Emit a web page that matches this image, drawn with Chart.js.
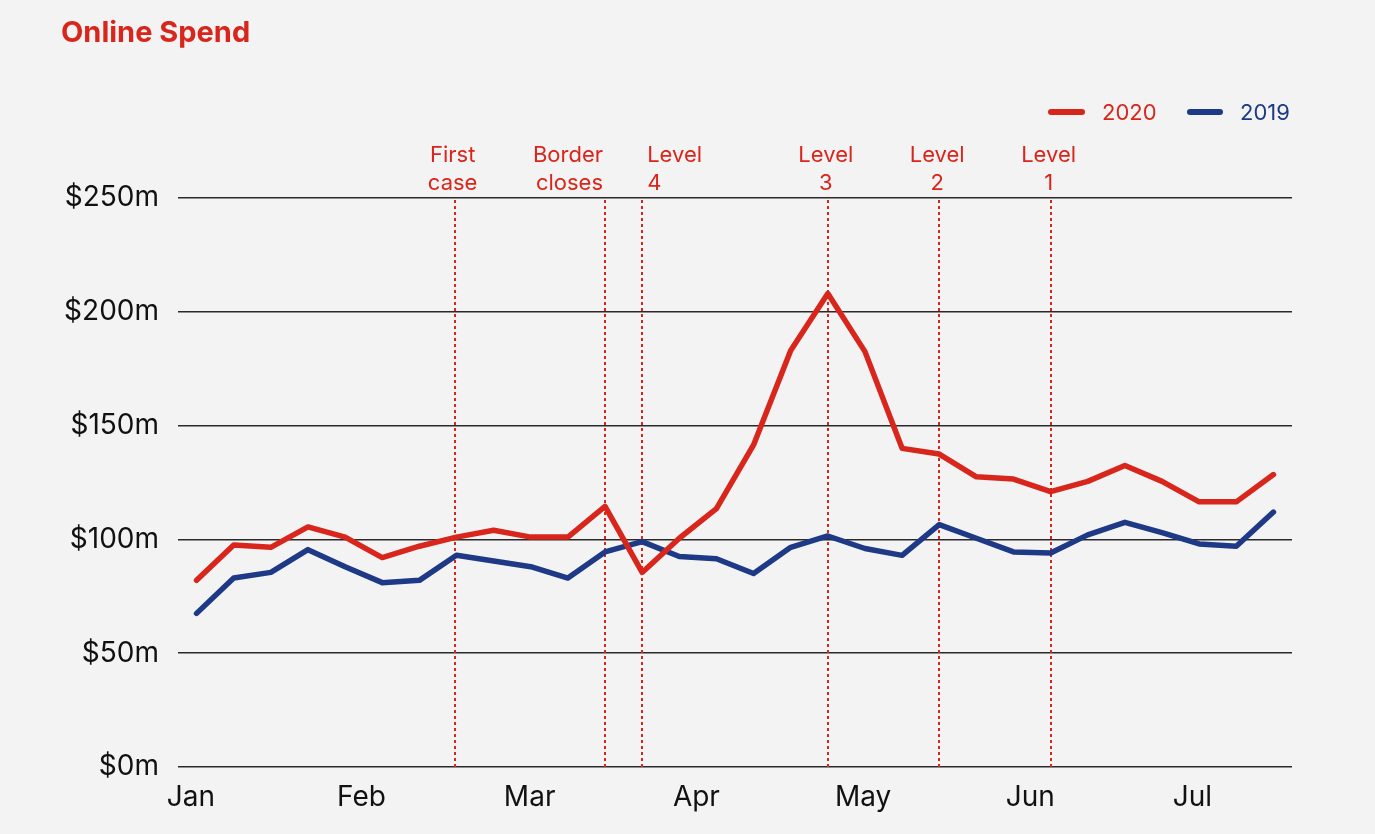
<!DOCTYPE html>
<html>
<head>
<meta charset="utf-8">
<title>Online Spend</title>
<script src="https://cdn.jsdelivr.net/npm/chart.js@4/dist/chart.umd.min.js"></script>
<style>
  html, body { margin: 0; padding: 0; background: #f3f3f3; }
  #wrap { width: 1375px; height: 834px; position: relative; }
</style>
</head>
<body>
<div id="wrap"><canvas id="spendChart"></canvas></div>
<script>
// weekly online spend ($m), first week of Jan through mid July
const spend2020 = [82, 97.5, 96.5, 105.5, 101, 92, 97, 101, 104, 101, 101, 114.5, 85.5, 100.5, 113.5,
  141.5, 183, 208, 182.5, 140, 137.5, 127.5, 126.5, 121, 125.5, 132.5, 125.5, 116.5, 116.5, 128.5];
const spend2019 = [67.5, 83, 85.5, 95.5, 88, 81, 82, 93, 90.5, 88, 83, 94.5, 99, 92.5, 91.5,
  85, 96.5, 101.5, 96, 93, 106.5, 100.5, 94.5, 94, 102, 107.5, 103, 98, 97, 112];

const monthLabels = ['Jan', 'Feb', 'Mar', 'Apr', 'May', 'Jun', 'Jul'];
const monthWeeks = [-0.15, 4.44, 8.97, 13.46, 17.95, 22.45, 26.82];
const yTicks = [0, 50, 100, 150, 200, 250];

// covid milestones, in weeks from Jan 1
const eventWeeks = [6.95, 11, 12, 17, 20, 23];
const eventLabels = [['First', 'case'], ['Border', 'closes'], ['Level', '4'], ['Level', '3'], ['Level', '2'], ['Level', '1']];
const eventAlign = ['center', 'right', 'left', 'center', 'center', 'center'];

const RED = '#d8261c';
const BLUE = '#1e3a86';
const FONT = 'Inter, "Liberation Sans", Arial, sans-serif';

const toPoints = (arr) => arr.map((v, i) => ({ x: i, y: v }));

const backgroundPlugin = {
  id: 'background',
  beforeDraw(chart) {
    const ctx = chart.ctx;
    ctx.save();
    ctx.fillStyle = '#f3f3f3';
    ctx.fillRect(0, 0, chart.width, chart.height);
    ctx.restore();
  }
};

// dotted milestone lines sit under the data lines
const eventLinesPlugin = {
  id: 'eventLines',
  beforeDatasetsDraw(chart) {
    const { ctx, chartArea, scales } = chart;
    ctx.save();
    ctx.strokeStyle = RED;
    ctx.lineWidth = 2;
    ctx.setLineDash([3, 3]);
    eventWeeks.forEach(w => {
      const x = Math.round(scales.x.getPixelForValue(w));
      ctx.beginPath();
      ctx.moveTo(x, chartArea.top + 2);
      ctx.lineTo(x, chartArea.bottom);
      ctx.stroke();
    });
    ctx.restore();
  },
  afterDraw(chart) {
    const { ctx, scales } = chart;
    ctx.save();
    ctx.fillStyle = RED;
    ctx.font = '22px ' + FONT;
    ctx.textBaseline = 'alphabetic';
    eventWeeks.forEach((w, i) => {
      let x = scales.x.getPixelForValue(w);
      const align = eventAlign[i];
      if (align === 'left') x += 5;
      else x -= 2;
      ctx.textAlign = align;
      ctx.fillText(eventLabels[i][0], x, 162);
      ctx.fillText(eventLabels[i][1], x, 190);
    });
    ctx.restore();
  }
};

// title and legend drawn at the top
const headerPlugin = {
  id: 'header',
  afterDraw(chart) {
    const ctx = chart.ctx;
    ctx.save();
    ctx.fillStyle = RED;
    ctx.font = 'bold 29px ' + FONT;
    ctx.textBaseline = 'alphabetic';
    ctx.textAlign = 'left';
    ctx.fillText('Online Spend', 61, 42);

    const items = [
      { label: '2020', color: RED, x0: 1051, x1: 1082, tx: 1102 },
      { label: '2019', color: BLUE, x0: 1190, x1: 1220, tx: 1240 }
    ];
    ctx.font = '22px ' + FONT;
    ctx.textBaseline = 'middle';
    items.forEach(it => {
      ctx.strokeStyle = it.color;
      ctx.lineWidth = 6;
      ctx.lineCap = 'round';
      ctx.beginPath();
      ctx.moveTo(it.x0, 112);
      ctx.lineTo(it.x1, 112);
      ctx.stroke();
      ctx.fillStyle = it.color;
      ctx.fillText(it.label, it.tx, 113);
    });
    ctx.restore();
  }
};

new Chart(document.getElementById('spendChart'), {
  type: 'line',
  data: {
    datasets: [
      {
        label: '2020',
        data: toPoints(spend2020),
        borderColor: RED,
        backgroundColor: RED,
        borderWidth: 5.5,
        borderCapStyle: 'round',
        borderJoinStyle: 'round',
        pointRadius: 0,
        tension: 0
      },
      {
        label: '2019',
        data: toPoints(spend2019),
        borderColor: BLUE,
        backgroundColor: BLUE,
        borderWidth: 5.5,
        borderCapStyle: 'round',
        borderJoinStyle: 'round',
        pointRadius: 0,
        tension: 0
      }
    ]
  },
  options: {
    responsive: true,
    maintainAspectRatio: false,
    animation: false,
    layout: {
      padding: { top: 198, right: 83, left: 0, bottom: 0 }
    },
    plugins: {
      legend: { display: false },
      title: { display: false },
      tooltip: { enabled: false }
    },
    scales: {
      x: {
        type: 'linear',
        min: -0.5,
        max: 29.5,
        afterFit(scale) {
          scale.height = 67;
        },
        afterBuildTicks(scale) {
          scale.ticks = monthWeeks.map(v => ({ value: v }));
        },
        grid: { display: false, drawTicks: false },
        border: { display: false },
        ticks: {
          autoSkip: false,
          maxRotation: 0,
          padding: 14,
          color: '#111',
          font: { family: FONT, size: 28 },
          callback: (value, index) => monthLabels[index]
        }
      },
      y: {
        min: 0,
        max: 250,
        afterFit(scale) {
          scale.width = 178;
        },
        afterBuildTicks(scale) {
          scale.ticks = yTicks.map(v => ({ value: v }));
        },
        grid: {
          color: '#2a2a2a',
          lineWidth: 1.5,
          drawTicks: false
        },
        border: { display: false },
        ticks: {
          padding: 19,
          color: '#111',
          font: { family: FONT, size: 28 },
          callback: (value) => '$' + value + 'm'
        }
      }
    }
  },
  plugins: [backgroundPlugin, eventLinesPlugin, headerPlugin]
});
</script>
</body>
</html>
